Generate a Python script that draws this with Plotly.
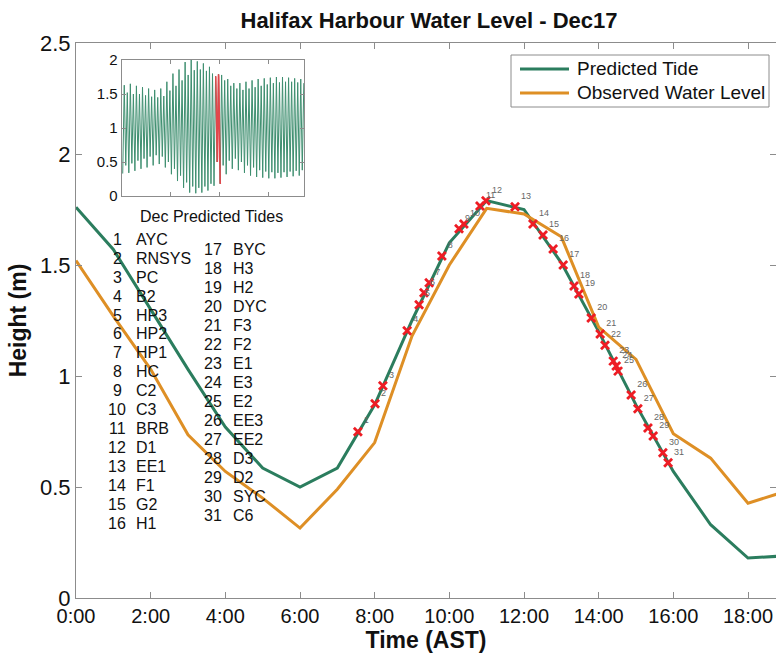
import plotly.graph_objects as go
import numpy as np

# ---------------- data ----------------
hours = list(range(20))
predicted = [1.76, 1.57, 1.30, 1.03, 0.77, 0.585, 0.50, 0.585, 0.87, 1.25,
             1.60, 1.79, 1.75, 1.51, 1.20, 0.87, 0.57, 0.33, 0.18, 0.19]
observed = [1.52, 1.27, 1.03, 0.735, 0.57, 0.45, 0.315, 0.49, 0.70, 1.18,
            1.50, 1.755, 1.73, 1.627, 1.22, 1.075, 0.74, 0.63, 0.427, 0.48]

series_names = ["Predicted Tide", "Observed Water Level"]

station_ids = list(range(1, 32))
station_names = ["AYC", "RNSYS", "PC", "B2", "HP3", "HP2", "HP1", "HC", "C2", "C3",
                 "BRB", "D1", "EE1", "F1", "G2", "H1", "BYC", "H3", "H2", "DYC",
                 "F3", "F2", "E1", "E3", "E2", "EE3", "EE2", "D3", "D2", "SYC", "C6"]
station_hours = [7.55, 8.01, 8.22, 8.87, 9.19, 9.32, 9.46, 9.80, 10.26, 10.39,
                 10.82, 10.98, 11.76, 12.24, 12.51, 12.78, 13.05, 13.34, 13.47, 13.80,
                 14.04, 14.17, 14.39, 14.47, 14.52, 14.87, 15.05, 15.32, 15.46, 15.72, 15.86]
station_heights = [0.749, 0.875, 0.956, 1.204, 1.321, 1.375, 1.420, 1.541, 1.663, 1.685,
                   1.766, 1.789, 1.762, 1.685, 1.635, 1.572, 1.500, 1.405, 1.369, 1.261,
                   1.189, 1.139, 1.067, 1.045, 1.022, 0.914, 0.852, 0.766, 0.730, 0.654, 0.609]

x_tick_vals = [0, 2, 4, 6, 8, 10, 12, 14, 16, 18]
x_tick_text = ["0:00", "2:00", "4:00", "6:00", "8:00", "10:00", "12:00", "14:00", "16:00", "18:00"]
y_tick_vals = [0, 0.5, 1, 1.5, 2, 2.5]
y_tick_text = ["0", "0.5", "1", "1.5", "2", "2.5"]

# December predicted tides (inset): successive low / high water heights
inset_lows = [0.33, 0.45, 0.34, 0.48, 0.37, 0.52, 0.40, 0.55, 0.42, 0.58,
              0.45, 0.60, 0.47, 0.58, 0.42, 0.50, 0.32, 0.40, 0.22, 0.30,
              0.12, 0.20, 0.05, 0.14, 0.04, 0.12, 0.05, 0.14, 0.08, 0.18,
              0.15, 0.50, 0.18, 0.45, 0.32, 0.52, 0.40, 0.55, 0.38, 0.50,
              0.34, 0.45, 0.30, 0.42, 0.28, 0.38, 0.27, 0.36, 0.26, 0.35,
              0.26, 0.34, 0.27, 0.35, 0.28, 0.36, 0.29, 0.37, 0.30, 0.38]
inset_highs = [1.63, 1.52, 1.65, 1.50, 1.62, 1.50, 1.60, 1.48, 1.58, 1.46,
               1.56, 1.45, 1.58, 1.47, 1.68, 1.55, 1.80, 1.62, 1.86, 1.70,
               1.97, 1.78, 2.00, 1.85, 1.98, 1.86, 1.95, 1.84, 1.90, 1.80,
               1.76, 1.79, 1.78, 1.70, 1.72, 1.62, 1.66, 1.58, 1.66, 1.56,
               1.68, 1.58, 1.70, 1.60, 1.72, 1.62, 1.73, 1.64, 1.74, 1.66,
               1.75, 1.67, 1.75, 1.68, 1.74, 1.68, 1.73, 1.67, 1.72, 1.66]
inset_first_hour = 4.2        # time of first low water in the month (h)
inset_half_period = 6.21      # half of the semidiurnal tidal period (h)
dec17_start_hour = 384        # Dec 17 00:00 in hours since Dec 1

# ---------------- build ----------------
inset_values = []
for lo, hi in zip(inset_lows, inset_highs):
    inset_values += [lo, hi]
inset_hours = inset_first_hour + inset_half_period * np.arange(len(inset_values))
red_hours = [dec17_start_hour + h for h in hours]

GREEN = "#2b7d5e"
ORANGE = "#de8f25"
RED = "#ee1c24"
AX = "#8c8c8c"
TXT = "#111"
FONT = "Liberation Sans, Arial, sans-serif"

W, H = 776, 653
L, R, T, B = 76, 0, 43, 55
PW, PH = W - L - R, H - T - B


def px(x):
    return (x - L) / PW


def py(y):
    return (H - B - y) / PH


fig = go.Figure()

fig.add_trace(go.Scatter(x=hours, y=predicted, mode="lines", name=series_names[0],
                         line=dict(color=GREEN, width=3), showlegend=False))
fig.add_trace(go.Scatter(x=hours, y=observed, mode="lines", name=series_names[1],
                         line=dict(color=ORANGE, width=3), showlegend=False))
fig.add_trace(go.Scatter(x=station_hours, y=station_heights, mode="markers+text",
                         text=[str(i) for i in station_ids], textposition="top right",
                         textfont=dict(size=9, color="#666", family=FONT),
                         marker=dict(symbol="x-thin", size=8, line=dict(color=RED, width=2.8)),
                         showlegend=False, cliponaxis=False))

# inset
fig.add_trace(go.Scatter(x=inset_hours, y=inset_values, mode="lines", xaxis="x2", yaxis="y2",
                         line=dict(color="#3f8f70", width=1), showlegend=False))
fig.add_trace(go.Scatter(x=red_hours, y=predicted, mode="lines", xaxis="x2", yaxis="y2",
                         line=dict(color="#e2474c", width=1.6), showlegend=False))

annotations = []
shapes = []
# station list
for i in range(16):
    yy = 239.3 + 18.93 * i
    annotations.append(dict(x=px(117.3), y=py(yy), xref="paper", yref="paper",
                            text=str(station_ids[i]), showarrow=False, xanchor="center",
                            yanchor="middle", font=dict(size=16, family=FONT, color=TXT)))
    annotations.append(dict(x=px(134), y=py(yy), xref="paper", yref="paper",
                            text=station_names[i], showarrow=False, xanchor="left",
                            yanchor="middle", font=dict(size=16, family=FONT, color=TXT)))
for j in range(15):
    i = 16 + j
    yy = 249.3 + 18.98 * j
    annotations.append(dict(x=px(213.3), y=py(yy), xref="paper", yref="paper",
                            text=str(station_ids[i]), showarrow=False, xanchor="center",
                            yanchor="middle", font=dict(size=16, family=FONT, color=TXT)))
    annotations.append(dict(x=px(231), y=py(yy), xref="paper", yref="paper",
                            text=station_names[i], showarrow=False, xanchor="left",
                            yanchor="middle", font=dict(size=16, family=FONT, color=TXT)))
annotations.append(dict(x=px(211), y=py(216), xref="paper", yref="paper",
                        text="Dec Predicted Tides", showarrow=False, xanchor="center",
                        yanchor="middle", font=dict(size=16, family=FONT, color=TXT)))

# legend box (drawn to match the reference's MATLAB-style legend)
shapes.append(dict(type="rect", xref="paper", yref="paper",
                   x0=px(511), x1=px(769), y0=py(107), y1=py(55),
                   line=dict(color=AX, width=1), fillcolor="white", layer="above"))
for k, (col, yy) in enumerate([(GREEN, 69), (ORANGE, 93)]):
    shapes.append(dict(type="line", xref="paper", yref="paper",
                       x0=px(520), x1=px(569), y0=py(yy), y1=py(yy),
                       line=dict(color=col, width=3), layer="above"))
    annotations.append(dict(x=px(575), y=py(yy), xref="paper", yref="paper",
                            text=series_names[k], showarrow=False, xanchor="left",
                            yanchor="middle", font=dict(size=19, family=FONT, color=TXT)))

fig.update_layout(
    width=W, height=H,
    margin=dict(l=L, r=R, t=T, b=B),
    paper_bgcolor="white", plot_bgcolor="white",
    font=dict(family=FONT, color=TXT),
    showlegend=False,
    title=dict(text="<b>Halifax Harbour Water Level - Dec17</b>", x=429 / W, xref="container",
               xanchor="center", y=1 - 20 / H, yref="container", yanchor="middle",
               font=dict(size=22, family=FONT, color=TXT)),
    xaxis=dict(range=[0, 18.75], tickvals=x_tick_vals, ticktext=x_tick_text,
               ticks="inside", ticklen=6, tickcolor=AX, showline=True, linecolor=AX,
               mirror="ticks", showgrid=False, zeroline=False,
               tickfont=dict(size=20, family=FONT, color=TXT),
               title=dict(text="<b>Time (AST)</b>", font=dict(size=23, family=FONT, color=TXT),
                          standoff=3)),
    yaxis=dict(range=[0, 2.5], tickvals=y_tick_vals, ticktext=y_tick_text,
               ticks="inside", ticklen=6, tickcolor=AX, showline=True, linecolor=AX,
               mirror="ticks", showgrid=False, zeroline=False,
               tickfont=dict(size=22, family=FONT, color=TXT),
               title=dict(text="<b>Height (m)</b>", font=dict(size=23, family=FONT, color=TXT),
                          standoff=6)),
    xaxis2=dict(domain=[px(121.7), px(304)], anchor="y2", range=[0, 744],
                tickvals=[200, 400, 600], showticklabels=False, ticks="inside", ticklen=4,
                tickcolor=AX, showline=True, linecolor=AX, mirror="ticks",
                showgrid=False, zeroline=False),
    yaxis2=dict(domain=[py(196), py(60)], anchor="x2", range=[0, 2],
                tickvals=[0, 0.5, 1, 1.5, 2], ticktext=["0", "0.5", "1", "1.5", "2"],
                ticks="inside", ticklen=4, tickcolor=AX, showline=True, linecolor=AX,
                mirror="ticks", showgrid=False, zeroline=False,
                tickfont=dict(size=15, family=FONT, color=TXT)),
    annotations=annotations,
    shapes=shapes,
)

fig.write_html("out.html", config={"displayModeBar": False},
               post_script="document.body.style.margin='0';document.body.style.overflow='hidden';")
